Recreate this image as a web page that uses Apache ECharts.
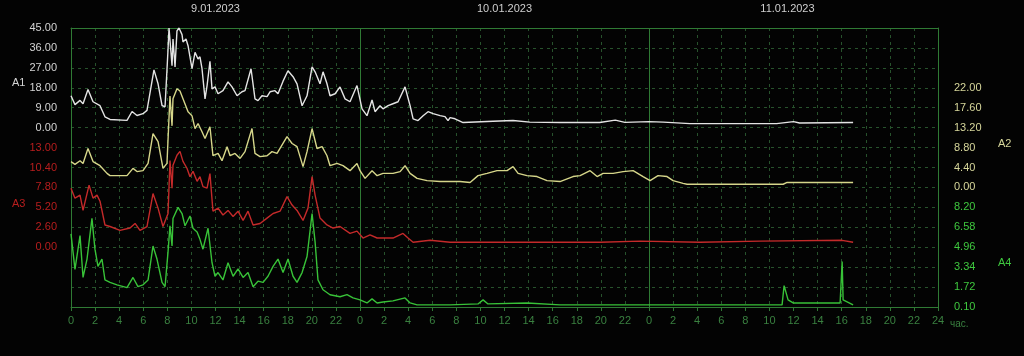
<!DOCTYPE html>
<html><head><meta charset="utf-8">
<script src="https://cdn.jsdelivr.net/npm/echarts@6/dist/echarts.min.js"></script>
<style>html,body{margin:0;padding:0;background:#030303;}#c{width:1024px;height:356px;}</style>
</head><body><div id="c"></div>
<script>
// ---- data ----
const dateLabels = ['9.01.2023', '10.01.2023', '11.01.2023'];
const dateTicks = [12, 36, 59.5];
const xTicks = [0,2,4,6,8,10,12,14,16,18,20,22,24,26,28,30,32,34,36,38,40,42,44,46,48,50,52,54,56,58,60,62,64,66,68,70,72];
const a1Ticks = [0, 9, 18, 27, 36, 45];
const a2Ticks = [0, 4.4, 8.8, 13.2, 17.6, 22];
const a3Ticks = [0, 2.6, 5.2, 7.8, 10.4, 13];
const a4Ticks = [0.10, 1.72, 3.34, 4.96, 6.58, 8.20];

const a1Hours = [0,0.33,0.75,1.0,1.41,1.83,2.41,2.82,3.24,4.65,5.07,5.48,5.98,6.31,6.89,7.23,7.56,7.81,8.06,8.14,8.39,8.47,8.64,8.80,8.97,9.22,9.30,9.55,9.72,10.05,10.30,10.55,10.71,10.88,11.13,11.30,11.54,11.71,11.96,12.21,12.62,13.04,13.37,13.79,14.20,14.45,14.95,15.28,15.53,15.86,16.28,16.53,16.94,17.19,17.61,18.02,18.44,18.77,19.19,19.60,20.02,20.27,20.68,20.93,21.26,21.51,21.93,22.34,22.76,23.17,23.75,24.17,24.58,25.0,25.25,25.66,25.91,26.33,26.74,27.16,27.74,28.16,28.41,28.82,29.24,29.65,30.07,30.65,31.06,31.31,31.48,31.89,32.56,35.05,36.71,38.1,40.6,43.9,45.2,46.0,48.0,49.2,51.4,58.6,60.0,60.5,64.95];
const a1Values = [14.4,10.4,12.3,10.8,17.2,11.7,9.9,4.9,3.7,3.3,7.3,5.5,6.3,7.8,26.1,19.8,10.0,9.4,35.5,45,28,40,27.4,43.7,45,42,38.7,40,37,26.6,34,31,32,26.6,13,19,30,17.5,18.4,15.3,16.7,20.7,18.4,14.4,16.2,16.7,26.6,13,12.2,14.4,14,16.2,16.7,15.3,21,25.7,23,19.8,9.9,14.4,27.4,25.2,19.8,25.2,19.8,14.4,15.3,18.4,13,11.7,19,8.5,5.4,12.5,7.2,9.9,8.5,9.9,10.8,11.7,18.4,9.9,4,3.2,5.4,7.2,6.3,5.4,5,3.2,4.5,4,2.3,2.9,3.2,2.5,2.3,2.3,3.4,2.4,2.7,2.5,1.8,1.8,2.7,2.1,2.3];

const a2Hours = [0,0.33,0.75,1.0,1.41,1.83,2.41,2.99,3.24,4.65,5.15,5.48,5.98,6.4,6.81,7.23,7.64,7.97,8.22,8.39,8.47,8.80,9.05,9.30,9.72,10.05,10.30,10.55,10.88,11.13,11.54,11.79,12.21,12.54,12.96,13.21,13.62,14.04,14.45,15.03,15.28,15.70,16.28,16.69,17.11,17.94,18.36,18.77,19.27,19.60,20.02,20.43,20.85,21.26,21.51,22.09,22.59,23.17,23.75,24.0,24.42,25.0,25.42,25.91,26.74,27.33,27.74,28.16,28.74,29.57,30.65,32.31,33.14,33.80,34.55,35.38,36.21,36.71,37.13,37.87,38.70,39.53,40.61,41.69,42.28,43.11,43.69,44.19,45.02,45.85,46.68,47.51,48.09,48.75,49.50,50.0,50.83,51.16,59.14,59.47,64.95];
const a2Values = [5.7,5.1,5.9,5.3,8.6,5.7,4.8,3.1,2.6,2.6,4.2,3.5,3.7,5.3,11.9,10.1,4.2,5.3,20.2,13.6,19.6,21.8,21.3,19.6,16.7,15.8,13,14.1,12.3,10.8,13.4,7,7.5,5.9,9,7,7.5,6.4,7.9,13,7.5,6.8,7,7.9,7.5,11.2,9.7,9,4.6,7.9,13,8.6,9,7,4.8,5.3,4.8,3.7,5.3,3.7,2,3.7,2.6,3.1,3.1,3.5,4.8,3.1,2,1.5,1.3,1.3,1.1,2.6,3.1,3.7,3.7,4.6,3.1,2.6,2.4,1.5,1.3,2.4,2.6,3.7,2.4,3.1,3.1,3.5,3.7,2.4,1.5,2.6,2.4,1.5,0.9,0.7,0.7,1.1,1.1];

const a3Hours = [0,0.33,0.75,1.0,1.5,1.83,2.16,2.41,2.82,3.24,4.07,4.90,5.32,5.73,6.31,6.81,7.23,7.64,8.06,8.22,8.39,8.47,8.80,9.05,9.30,9.63,9.88,10.13,10.47,10.71,10.96,11.30,11.54,11.79,12.21,12.62,13.04,13.46,13.87,14.29,14.70,15.12,15.70,16.28,16.78,17.36,17.94,18.36,18.77,19.27,19.68,20.02,20.27,20.68,21.26,21.76,22.34,23.17,23.75,24.25,24.83,25.42,25.91,26.74,27.57,27.99,28.41,29.82,31.48,43.94,47.26,52.24,57.23,64.04,64.95];
const a3Values = [7.7,6.4,6.8,4.8,8.1,6.4,6.8,6.0,2.9,2.7,2.2,2.5,3.1,2.2,2.7,7.0,5.1,2.7,4.4,11.3,7.7,10.7,12,12.5,11.2,10.3,9.2,9.9,8.6,9.2,7.9,7.7,9.6,4.7,5.1,4.2,4.8,4.0,4.7,3.5,4.7,2.9,3.1,3.8,4.4,4.7,6.6,5.5,4.8,3.5,5.1,9.2,6.8,3.8,2.9,2.5,2.7,1.8,2.1,1.2,1.6,1.2,1.2,1.2,1.8,1.2,0.65,0.9,0.65,0.65,0.8,0.65,0.8,0.9,0.65];

const a4Hours = [0,0.33,0.75,1.0,1.33,1.74,1.99,2.24,2.57,2.82,3.24,3.82,4.65,5.15,5.56,5.98,6.40,6.81,7.14,7.56,7.81,8.06,8.22,8.39,8.47,8.89,9.22,9.47,9.88,10.13,10.47,10.71,10.96,11.38,11.71,11.96,12.21,12.62,13.04,13.46,13.87,14.29,14.70,15.12,15.53,15.95,16.36,16.78,17.19,17.61,18.02,18.44,18.77,19.19,19.60,20.02,20.27,20.51,20.93,21.51,22.34,22.92,23.42,24.0,24.58,25.0,25.42,25.91,26.74,27.74,28.16,28.74,31.48,33.80,34.22,34.63,37.87,40.61,47.26,59.05,59.22,59.55,59.97,62.46,63.87,64.04,64.12,64.95];
const a4Values = [6.05,3.16,5.9,2.5,4.0,7.3,4.8,3.4,4.0,2.3,2.1,1.9,1.67,2.5,1.75,1.9,2.3,5.06,4.0,2.1,1.75,4.6,6.7,5.06,7.3,8.2,7.7,6.7,7.5,6.5,6.2,5.6,4.8,6.5,3.7,2.6,2.9,2.3,3.7,2.6,3.2,2.5,2.9,1.75,2.2,2.1,2.6,3.4,4.0,2.9,4.0,2.6,2.1,2.9,4.2,7.7,5.4,2.3,1.5,1.1,0.93,1.1,0.84,0.68,0.43,0.76,0.43,0.51,0.6,0.84,0.43,0.27,0.27,0.35,0.68,0.35,0.43,0.27,0.27,0.27,1.84,0.68,0.43,0.43,0.43,3.8,0.68,0.27];

// ---- chart ----
const zip = (h, v) => h.map((x, i) => [x, v[i]]);
const FONT = 'Liberation Sans, Arial, sans-serif';
const C = {a1:'#e4e4e4', a2:'#d6d68a', a3:'#c42a2a', a4:'#38c238', grid:'#27522c', solid:'#2f7a34', xl:'#3a8040'};
const chart = echarts.init(document.getElementById('c'), null, {renderer:'canvas'});
const fmt = v => Number(v).toFixed(2);
const yBase = (pos, min, max, ticks, color, showLine) => ({
  type:'value', position:pos, min:min, max:max, scale:false,
  axisLine:{show:showLine, onZero:false, lineStyle:{color:C.solid, width:1}},
  axisTick:{show:false}, splitLine:{show:false},
  axisLabel:{customValues:ticks, formatter:fmt, color:color, fontSize:11, fontFamily:FONT, margin: pos==='left'?14:16}
});
const y1 = yBase('left', -81, 45, a1Ticks, '#d4d4d4', true);
y1.interval = 9;
y1.splitLine = {show:true, lineStyle:{color:C.grid, type:[3,4], width:1}};
const option = {
  backgroundColor:'#030303',
  animation:false,
  grid:{left:71, right:86, top:28, bottom:49},
  xAxis:[
    {type:'value', position:'bottom', min:0, max:72, interval:2,
     axisLine:{show:true, onZero:false, lineStyle:{color:C.solid}},
     axisTick:{show:true, length:4, lineStyle:{color:C.solid}},
     splitLine:{show:true, lineStyle:{color:C.grid, type:[3,4], width:1}},
     axisLabel:{customValues:xTicks, color:C.xl, fontSize:11, fontFamily:FONT, margin:8,
       formatter: v => (v === 72 ? '24' : String(v % 24))},
     name:'час.', nameLocation:'end', nameGap:6,
     nameTextStyle:{color:C.xl, fontSize:10, verticalAlign:'top', padding:[12,0,0,0], fontFamily:FONT}},
    {type:'value', position:'top', min:0, max:72, interval:24,
     axisLine:{show:true, onZero:false, lineStyle:{color:C.solid}},
     axisTick:{show:false},
     splitLine:{show:true, lineStyle:{color:C.solid, type:'solid', width:1}},
     axisLabel:{customValues:dateTicks, color:'#cfcfcf', fontSize:11, fontFamily:FONT, margin:14,
       formatter: v => dateLabels[dateTicks.indexOf(v)]}}
  ],
  yAxis:[
    y1,
    yBase('right', -26.4, 35.2, a2Ticks, '#d6d69a', true),
    yBase('left', -7.8, 28.6, a3Ticks, '#b81e1e', false),
    yBase('right', 0.10, 22.78, a4Ticks, '#3fc83f', false)
  ],
  graphic:[
    {type:'text', left:12, top:77, style:{text:'A1', fill:'#d4d4d4', font:'11px ' + FONT}},
    {type:'text', left:12, top:198, style:{text:'A3', fill:'#b81e1e', font:'11px ' + FONT}},
    {type:'text', left:998, top:138, style:{text:'A2', fill:'#d6d69a', font:'11px ' + FONT}},
    {type:'text', left:998, top:257, style:{text:'A4', fill:'#3fc83f', font:'11px ' + FONT}}
  ],
  series:[
    {name:'A1', type:'line', xAxisIndex:0, yAxisIndex:0, data:zip(a1Hours,a1Values), showSymbol:false, lineStyle:{color:C.a1, width:1.4}, itemStyle:{color:C.a1}, z:5},
    {name:'A2', type:'line', xAxisIndex:0, yAxisIndex:1, data:zip(a2Hours,a2Values), showSymbol:false, lineStyle:{color:C.a2, width:1.4}, itemStyle:{color:C.a2}, z:4},
    {name:'A3', type:'line', xAxisIndex:0, yAxisIndex:2, data:zip(a3Hours,a3Values), showSymbol:false, lineStyle:{color:C.a3, width:1.4}, itemStyle:{color:C.a3}, z:3},
    {name:'A4', type:'line', xAxisIndex:0, yAxisIndex:3, data:zip(a4Hours,a4Values), showSymbol:false, lineStyle:{color:C.a4, width:1.4}, itemStyle:{color:C.a4}, z:2}
  ]
};
chart.setOption(option);
</script></body></html>
